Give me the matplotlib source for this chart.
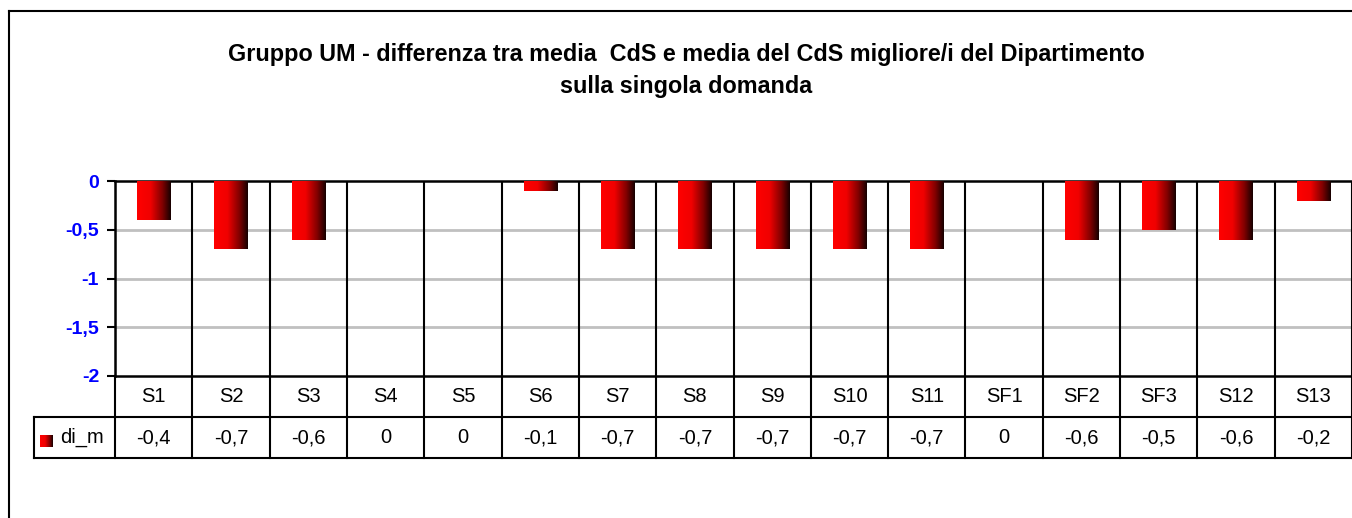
import numpy as np
import matplotlib
matplotlib.use("Agg")
from matplotlib import pyplot as plt
from matplotlib.colors import LinearSegmentedColormap

plt.rcParams['font.family'] = ['Liberation Sans', 'DejaVu Sans']

# dati
categorie = ["S1", "S2", "S3", "S4", "S5", "S6", "S7", "S8", "S9", "S10",
             "S11", "SF1", "SF2", "SF3", "S12", "S13"]
di_m = [-0.4, -0.7, -0.6, 0, 0, -0.1, -0.7, -0.7, -0.7, -0.7,
        -0.7, 0, -0.6, -0.5, -0.6, -0.2]
etichette_y = ["0", "-0,5", "-1", "-1,5", "-2"]
valori_y = [0, -0.5, -1, -1.5, -2]
serie = "di_m"
titolo = ("Gruppo UM - differenza tra media  CdS e media del CdS migliore/i del Dipartimento\n"
          "sulla singola domanda")

W, H = 1352, 518
fig = plt.figure(figsize=(W / 100, H / 100), dpi=100)

def fx(px):
    return px / W

def fy(py):
    return 1 - py / H

# cornice esterna (tagliata a destra e in basso)
fig.add_artist(plt.Line2D([fx(8.5), fx(8.5)], [fy(11), 0], color="black", lw=1.5))
fig.add_artist(plt.Line2D([fx(8.5), 1], [fy(11), fy(11)], color="black", lw=1.5))

fig.text(fx(686), fy(70), titolo, ha="center", va="center", fontsize=16.8,
         fontweight="bold", linespacing=1.5)

left, right, top, bottom = 115, 1352, 181, 376
ax = fig.add_axes([fx(left), fy(bottom), fx(right - left), fy(top) - fy(bottom)])
n = len(categorie)
x = np.arange(n)
ax.set_xlim(-0.5, n - 0.5)
ax.set_ylim(-2, 0)

# gradiente rosso -> nero come nelle barre Excel
cmap = LinearSegmentedColormap.from_list(
    "rosso", [(0, "#ff0000"), (0.4, "#f00000"), (0.75, "#800000"), (1, "#150000")])
grad = np.linspace(0, 1, 256).reshape(1, -1)

bars = ax.bar(x, di_m, width=0.43, color="none", edgecolor="none", zorder=3)
for b in bars:
    if b.get_height() == 0:
        continue
    x0 = b.get_x()
    x1 = x0 + b.get_width()
    y0 = b.get_y()
    y1 = y0 + b.get_height()
    ax.imshow(grad, extent=[x0, x1, min(y0, y1), max(y0, y1)], aspect="auto",
              cmap=cmap, zorder=3, interpolation="bilinear")
ax.set_xlim(-0.5, n - 0.5)
ax.set_ylim(-2, 0)

# griglia
for v in valori_y[1:-1]:
    ax.axhline(v, color="#c0c0c0", lw=2, zorder=1)
for i in range(n + 1):
    ax.axvline(i - 0.5, color="black", lw=1.5, zorder=2)

ax.set_yticks(valori_y)
ax.set_yticklabels(etichette_y, color="#0000ff", fontweight="bold", fontsize=14)
ax.tick_params(axis="y", length=5.5, width=1.5, pad=6)
ax.set_xticks([])
for s in ["left", "top", "bottom"]:
    ax.spines[s].set_linewidth(1.8)
ax.spines["right"].set_visible(False)

# tabella dati sotto il grafico
riga1 = (bottom, 417)
riga2 = (417, 458)
lw = 1.5
fig.add_artist(plt.Line2D([fx(34), 1], [fy(riga1[1]), fy(riga1[1])], color="black", lw=lw))
fig.add_artist(plt.Line2D([fx(34), 1], [fy(riga2[1]), fy(riga2[1])], color="black", lw=lw))
fig.add_artist(plt.Line2D([fx(34), fx(34)], [fy(riga2[0]), fy(riga2[1])], color="black", lw=lw))

col_w = (right - left) / n
for i in range(n + 1):
    xp = fx(left + i * col_w)
    fig.add_artist(plt.Line2D([xp, xp], [fy(riga1[0]), fy(riga2[1])], color="black", lw=lw))
for i, (c, v) in enumerate(zip(categorie, di_m)):
    xc = fx(left + (i + 0.5) * col_w)
    fig.text(xc, fy(sum(riga1) / 2), c, ha="center", va="center", fontsize=14.5)
    testo = "0" if v == 0 else ("%.1f" % v).replace(".", ",")
    fig.text(xc, fy(sum(riga2) / 2), testo, ha="center", va="center", fontsize=14.5)

# legenda nella tabella
ax_leg = fig.add_axes([fx(40), fy(447), fx(13), fy(435) - fy(447)])
ax_leg.imshow(grad, aspect="auto", cmap=cmap, extent=[0, 1, 0, 1])
ax_leg.axis("off")
fig.text(fx(60), fy(sum(riga2) / 2), serie, ha="left", va="center", fontsize=14.5)

plt.savefig("out.png", dpi=100)
plt.close()
